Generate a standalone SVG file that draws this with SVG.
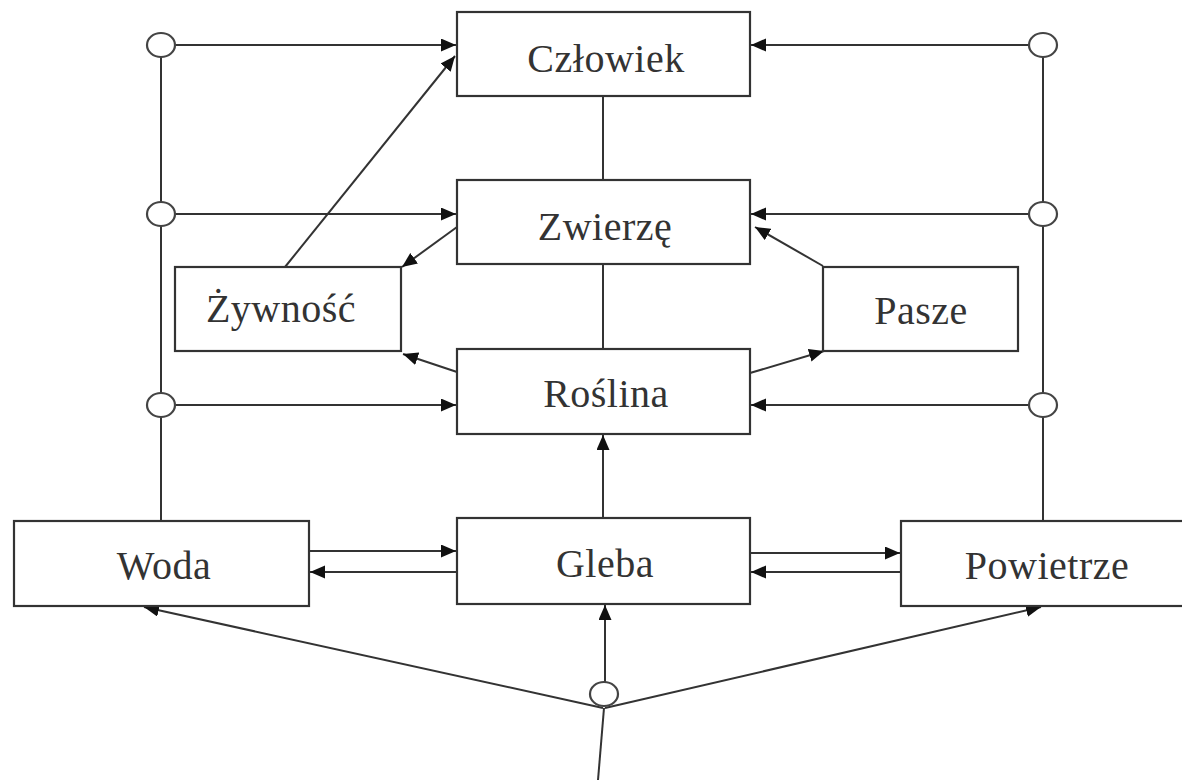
<svg xmlns="http://www.w3.org/2000/svg" width="1182" height="780" viewBox="0 0 1182 780">
<defs>
<marker id="ah" markerUnits="userSpaceOnUse" markerWidth="16" markerHeight="14" refX="15" refY="6.5" orient="auto">
<path d="M0,0 L15,6.5 L0,13 z" fill="#111"/>
</marker>
<style>
.box{fill:#fff;stroke:#333;stroke-width:2.2}
.ln{fill:none;stroke:#333;stroke-width:2}
.ar{fill:none;stroke:#333;stroke-width:2;marker-end:url(#ah)}
.jn{fill:#fff;stroke:#444;stroke-width:2.2}
.t{font-family:"Liberation Serif","DejaVu Serif",serif;font-size:40px;fill:#333;text-anchor:middle;letter-spacing:0.5px}
</style>
</defs>
<rect width="1182" height="780" fill="#fff"/>
<g id="connectors">
<line class="ln" x1="161" y1="57" x2="161" y2="521"/>
<line class="ln" x1="1043" y1="57" x2="1043" y2="521"/>
<line class="ar" x1="175" y1="45" x2="456" y2="45"/>
<line class="ar" x1="175" y1="214" x2="456" y2="214"/>
<line class="ar" x1="175" y1="405" x2="456" y2="405"/>
<line class="ar" x1="1029" y1="45" x2="751" y2="45"/>
<line class="ar" x1="1029" y1="214" x2="751" y2="214"/>
<line class="ar" x1="1029" y1="405" x2="751" y2="405"/>
<line class="ln" x1="603" y1="96" x2="603" y2="180"/>
<line class="ln" x1="603" y1="264" x2="603" y2="349"/>
<line class="ar" x1="603" y1="518" x2="603" y2="435"/>
<line class="ar" x1="285" y1="267" x2="455" y2="56"/>
<line class="ar" x1="457" y1="227" x2="402" y2="267"/>
<line class="ar" x1="457" y1="372" x2="403" y2="354"/>
<line class="ar" x1="750" y1="373" x2="824" y2="351"/>
<line class="ar" x1="823" y1="266" x2="755" y2="227"/>
<line class="ar" x1="309" y1="551" x2="456" y2="551"/>
<line class="ar" x1="457" y1="572" x2="310" y2="572"/>
<line class="ar" x1="750" y1="553" x2="900" y2="553"/>
<line class="ar" x1="901" y1="572" x2="751" y2="572"/>
<line class="ar" x1="605" y1="682" x2="605" y2="605"/>
<line class="ar" x1="603" y1="708" x2="144" y2="607"/>
<line class="ar" x1="605" y1="708" x2="1041" y2="607"/>
<line class="ln" x1="604" y1="708" x2="598" y2="780"/>
</g>
<g id="j1"><ellipse class="jn" cx="161" cy="45" rx="14" ry="12"/></g>
<g id="j2"><ellipse class="jn" cx="161" cy="214" rx="14" ry="12"/></g>
<g id="j3"><ellipse class="jn" cx="161" cy="405" rx="14" ry="12"/></g>
<g id="j4"><ellipse class="jn" cx="1043" cy="45" rx="14" ry="12"/></g>
<g id="j5"><ellipse class="jn" cx="1043" cy="214" rx="14" ry="12"/></g>
<g id="j6"><ellipse class="jn" cx="1043" cy="405" rx="14" ry="12"/></g>
<g id="j7"><ellipse class="jn" cx="604" cy="694" rx="14" ry="12"/></g>
<g id="czlowiek"><rect class="box" x="457" y="12" width="293" height="84"/><text class="t" x="606" y="72">Człowiek</text></g>
<g id="zwierze"><rect class="box" x="457" y="180" width="293" height="84"/><text class="t" x="605" y="240">Zwierzę</text></g>
<g id="roslina"><rect class="box" x="457" y="349" width="293" height="85"/><text class="t" x="606" y="407">Roślina</text></g>
<g id="zywnosc"><rect class="box" x="175" y="267" width="226" height="84"/><text class="t" x="281" y="322">Żywność</text></g>
<g id="pasze"><rect class="box" x="823" y="267" width="195" height="84"/><text class="t" x="921" y="324">Pasze</text></g>
<g id="gleba"><rect class="box" x="457" y="518" width="293" height="86"/><text class="t" x="605" y="577">Gleba</text></g>
<g id="woda"><rect class="box" x="14" y="521" width="295" height="85"/><text class="t" x="164" y="579">Woda</text></g>
<g id="powietrze"><rect class="box" x="901" y="521" width="300" height="85"/><text class="t" x="1047" y="579">Powietrze</text></g>
</svg>
